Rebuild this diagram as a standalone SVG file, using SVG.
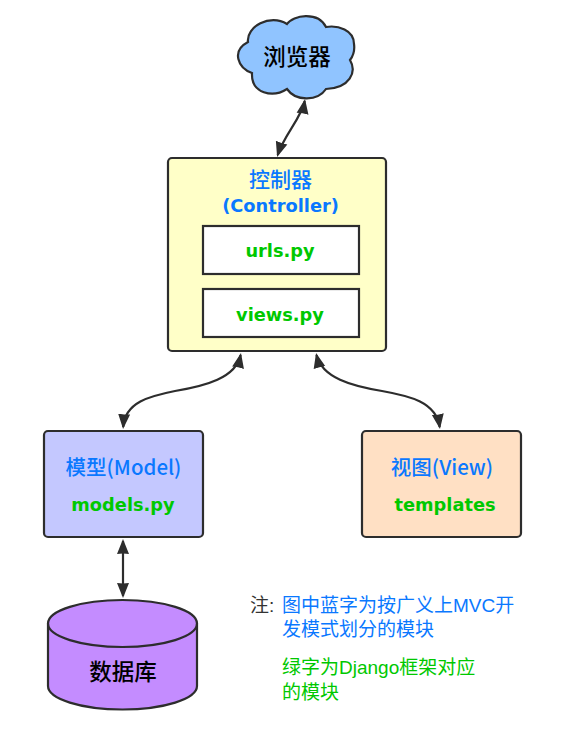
<svg xmlns="http://www.w3.org/2000/svg" width="584" height="729" viewBox="0 0 584 729">
<style>
.s{stroke:#2d2d2d;stroke-width:2.200}
.c{fill:none;stroke:#2d2d2d;stroke-width:2.200;marker-start:url(#a);marker-end:url(#a)}
text{font-family:"Noto Sans CJK SC",sans-serif}
.t{font-weight:500;text-anchor:middle}
.b{fill:#0a78ff}.g{fill:#00c800}.k{fill:#000}
.n{font-size:19px;font-family:"Liberation Sans","Noto Sans CJK SC",sans-serif}
.m{font-family:"DejaVu Sans","Noto Sans CJK SC",sans-serif;font-weight:700;font-size:17.800px;text-anchor:middle}
</style>
<defs>
<marker id="a" markerUnits="userSpaceOnUse" markerWidth="18" markerHeight="14" refX="13" refY="6.500" orient="auto-start-reverse">
<path d="M15 6.500L0 0.500L0.500 6.500L0 12.500Z" fill="#2d2d2d"/>
</marker>
</defs>
<rect width="584" height="729" fill="#fff"/>
<g id="connectors">
<path class="c" d="M304.700 101C302 117 284 135 277.700 155"/>
<path class="c" d="M240.600 355C236 378 205 386 175 391C150 396 125 402 123.200 427"/>
<path class="c" d="M316.500 355C322 378 352 386 382 391C410 396 436 402 439.700 427"/>
<path class="c" d="M123 541V596"/>
</g>
<g id="browser">
<path class="s" fill="#90c4ff" d="M287 24C293 15 318 11 326 27C338 25 354 30 354 44C355 51 353 56 350 60C357 72 350 88 326 89C318 101 296 102 287 89C273 98 251 94 252 73C238 68 231 51 248 42C246 27 270 13 287 24Z"/>
<text class="t k" x="297" y="65" font-size="22.500">浏览器</text>
</g>
<g id="controller">
<rect class="s" x="168" y="158" width="218" height="193" rx="4" fill="#ffffc8"/>
<text class="t b" x="280.500" y="187" font-size="21">控制器</text>
<text class="m b" x="280.500" y="212">(Controller)</text>
</g>
<g id="urls">
<rect class="s" x="203" y="226" width="156" height="48" fill="#fff"/>
<text class="m g" x="280" y="257">urls.py</text>
</g>
<g id="views">
<rect class="s" x="203" y="289" width="156" height="48" fill="#fff"/>
<text class="m g" x="280" y="321">views.py</text>
</g>
<g id="model">
<rect class="s" x="44" y="431" width="159" height="106" rx="4" fill="#c4c8ff"/>
<text class="t b" x="123.500" y="475" font-size="20.500">模型(Model)</text>
<text class="m g" x="123" y="511">models.py</text>
</g>
<g id="view">
<rect class="s" x="362" y="431" width="159" height="106" rx="4" fill="#ffe0c4"/>
<text class="t b" x="442" y="475" font-size="20.500">视图(View)</text>
<text class="m g" x="445" y="511">templates</text>
</g>
<g id="database">
<path class="s" fill="#c48cff" d="M48 623.500A74.500 23.500 0 0 1 197 623.500V686A74.500 23.500 0 0 1 48 686Z"/>
<path class="s" fill="none" d="M48 623.500A74.500 23.500 0 0 0 197 623.500"/>
<text class="t k" x="123" y="680" font-size="22.500">数据库</text>
</g>
<g id="note">
<text class="n" x="250" y="612" fill="#333">注:</text>
<text class="n b" x="282" y="612">图中蓝字为按广义上MVC开</text>
<text class="n b" x="282" y="636">发模式划分的模块</text>
<text class="n g" x="282" y="674">绿字为Django框架对应</text>
<text class="n g" x="282" y="699">的模块</text>
</g>
</svg>
